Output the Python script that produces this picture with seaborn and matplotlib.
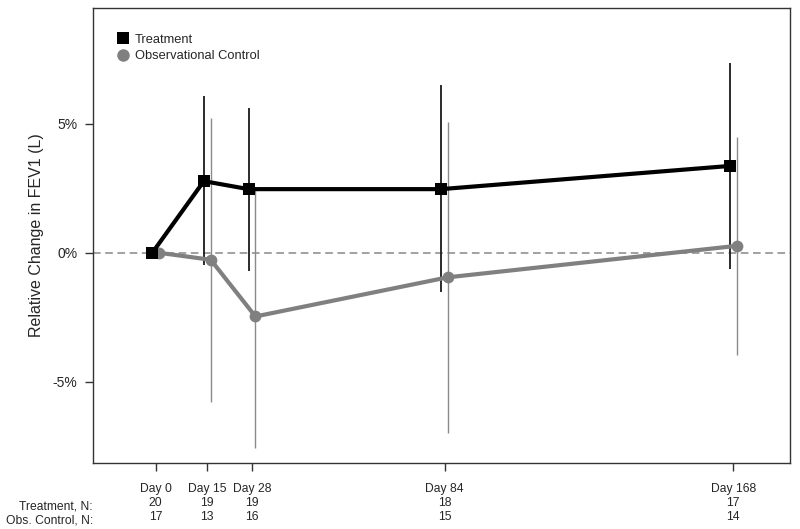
import pandas as pd
import numpy as np
import matplotlib
matplotlib.use('Agg')
import matplotlib.pyplot as plt
from matplotlib.lines import Line2D
import seaborn as sns

days = [0, 15, 28, 84, 168]
day_labels = ['Day 0', 'Day 15', 'Day 28', 'Day 84', 'Day 168']
n_treatment = [20, 19, 19, 18, 17]
n_control = [17, 13, 16, 15, 14]

treat_mean = [0.0, 2.78, 2.47, 2.47, 3.37]
treat_lo = [0.0, -0.47, -0.70, -1.52, -0.62]
treat_hi = [0.0, 6.08, 5.62, 6.50, 7.36]

ctrl_mean = [0.0, -0.27, -2.47, -0.95, 0.27]
ctrl_lo = [0.0, -5.78, -7.56, -6.98, -3.95]
ctrl_hi = [0.0, 5.23, 2.56, 5.08, 4.50]

groups = ['Treatment', 'Observational Control']
offsets = {'Treatment': -1.0, 'Observational Control': 1.0}

df = pd.concat([
    pd.DataFrame({'day': days, 'value': treat_mean, 'lo': treat_lo, 'hi': treat_hi, 'group': 'Treatment'}),
    pd.DataFrame({'day': days, 'value': ctrl_mean, 'lo': ctrl_lo, 'hi': ctrl_hi, 'group': 'Observational Control'}),
], ignore_index=True)
df['x'] = df['day'] + df['group'].map(offsets)

sns.set_style('white')
plt.rcParams['font.family'] = ['Liberation Sans', 'DejaVu Sans']

fig = plt.figure(figsize=(8, 5.29), dpi=100)
ax = fig.add_axes([0.116, 0.125, 0.872, 0.86])

colors = {'Treatment': 'black', 'Observational Control': '#808080'}
bar_colors = {'Treatment': '#1a1a1a', 'Observational Control': '#8a8a8a'}
bar_widths = {'Treatment': 1.3, 'Observational Control': 1.0}

ax.axhline(0, color='#888888', ls=(0, (5, 3)), lw=1.1, zorder=1)

# error bars (drawn first, behind the lines)
for g in groups:
    sub = df[(df['group'] == g) & (df['day'] > 0)]
    ax.vlines(sub['x'], sub['lo'], sub['hi'], color=bar_colors[g], lw=bar_widths[g], zorder=2)

# control first so treatment sits on top
sns.lineplot(data=df[df['group'] == 'Observational Control'], x='x', y='value',
             color=colors['Observational Control'], lw=3, marker='o', markersize=8.5,
             markeredgewidth=0, ax=ax, zorder=3, legend=False)
sns.lineplot(data=df[df['group'] == 'Treatment'], x='x', y='value',
             color=colors['Treatment'], lw=3, marker='s', markersize=8.5,
             markeredgewidth=0, ax=ax, zorder=4, legend=False)

ax.set_xlim(-18.3, 184.6)
ax.set_ylim(-8.15, 9.5)

ax.set_yticks([-5, 0, 5])
ax.set_yticklabels(['-5%', '0%', '5%'])
ax.set_xticks(days)
ax.set_xticklabels([f'{d}\n{a}\n{b}' for d, a, b in zip(day_labels, n_treatment, n_control)],
                   linespacing=1.2)
ax.tick_params(axis='both', which='both', direction='out', length=6, width=1,
               color='#333333', labelsize=8.7, bottom=True, left=True)
ax.tick_params(axis='x', pad=8.5)
ax.tick_params(axis='y', pad=5, labelsize=10)

ax.set_xlabel('')
ax.set_ylabel('Relative Change in FEV1 (L)', fontsize=11.5, labelpad=6)

for s in ax.spines.values():
    s.set_color('#333333')
    s.set_linewidth(1)

ax.text(0.0, -0.082, 'Treatment, N:', transform=ax.transAxes, ha='right', va='top', fontsize=8.7)
ax.text(0.0, -0.114, 'Obs. Control, N:', transform=ax.transAxes, ha='right', va='top', fontsize=8.7)

handles = [
    Line2D([], [], ls='none', marker='s', color='black', markersize=9, markeredgewidth=0),
    Line2D([], [], ls='none', marker='o', color='#808080', markersize=9, markeredgewidth=0),
]
ax.legend(handles, groups, loc='upper left', bbox_to_anchor=(0.025, 0.955), frameon=False,
          fontsize=9.3, handletextpad=0.3, labelspacing=0.35, borderaxespad=0, handlelength=1.2)

fig.savefig('out.png', dpi=100)
